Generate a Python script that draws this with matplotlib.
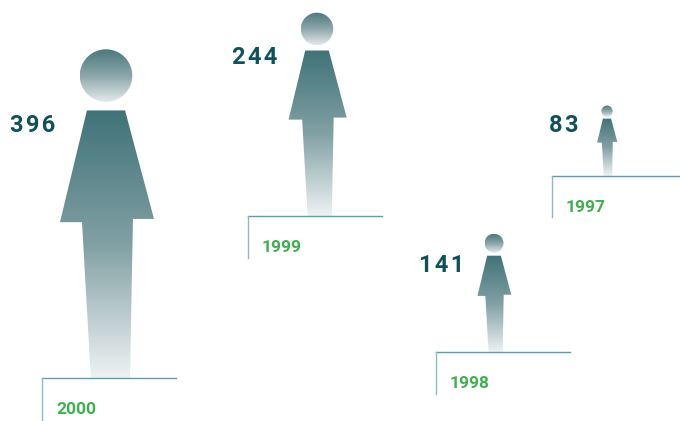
import numpy as np
from matplotlib import pyplot as plt
from matplotlib.colors import LinearSegmentedColormap
from matplotlib.patches import Circle, Polygon

plt.rcParams['font.family'] = ['Roboto', 'DejaVu Sans']

years = ['2000', '1999', '1998', '1997']
values = [396, 244, 141, 83]

# where each step sits on the page, in pixels
step_x = [42, 248, 436, 552]
step_y = [378, 216, 352, 176]
man_dx = [64, 69, 58, 55]
value_x = [10, 232, 419, 549]
value_y = [125, 58, 266, 125]
step_w = [134, 134, 134, 127]
step_h = [42, 42, 42, 41]

# pixels of figure height for a value
scale = 0.825
offset = 2

# figure outline, in figure heights from the feet
body = [(-0.058, 0.814), (0.058, 0.814), (0.146, 0.484), (0.082, 0.484),
        (0.073, 0.0), (-0.046, 0.0), (-0.073, 0.474), (-0.140, 0.474)]
head_y = 0.920
head_r = 0.080

body_cmap = LinearSegmentedColormap.from_list('body', ['#3f7378', '#81a0a4', '#eef2f3'])
head_cmap = LinearSegmentedColormap.from_list('head', ['#4a797d', '#8ba6a9', '#e4eaeb'])
ramp = np.linspace(0, 1, 256).reshape(-1, 1)

fig = plt.figure(figsize=(6.8, 4.21), dpi=100)
ax = fig.add_axes([0, 0, 1, 1])
ax.set_xlim(0, 680)
ax.set_ylim(421, 0)
ax.axis('off')

for i in range(len(values)):
    h = values[i] * scale + offset
    cx = step_x[i] + man_dx[i]
    base = step_y[i]

    top = base - body[0][1] * h
    pts = [(cx + px * h, base - py * h) for px, py in body]
    im = ax.imshow(ramp, cmap=body_cmap, aspect='auto', zorder=2,
                   extent=[cx - 0.2 * h, cx + 0.2 * h, base, top])
    im.set_clip_path(Polygon(pts, transform=ax.transData))

    hy = base - head_y * h
    hr = head_r * h
    im = ax.imshow(ramp, cmap=head_cmap, aspect='auto', zorder=2,
                   extent=[cx - hr, cx + hr, hy + hr, hy - hr])
    im.set_clip_path(Circle((cx, hy), hr, transform=ax.transData))

    ax.plot([step_x[i], step_x[i] + step_w[i]], [base, base], color='#5c9fa8', lw=1, zorder=3)
    ax.plot([step_x[i], step_x[i]], [base, base + step_h[i]], color='#8fb9c0', lw=1, zorder=3)

    ax.text(step_x[i] + 14, base + 31.5, years[i], color='#3fb04f', fontsize=12.5,
            fontweight='bold', va='center', ha='left')
    # hair spaces give the wide tracking of the big numbers
    ax.text(value_x[i], value_y[i], '\u200a'.join(str(values[i])), color='#0f525c', fontsize=17,
            fontweight='bold', va='center', ha='left')

ax.set_xlim(0, 680)
ax.set_ylim(421, 0)
fig.savefig('out.png', dpi=100)
